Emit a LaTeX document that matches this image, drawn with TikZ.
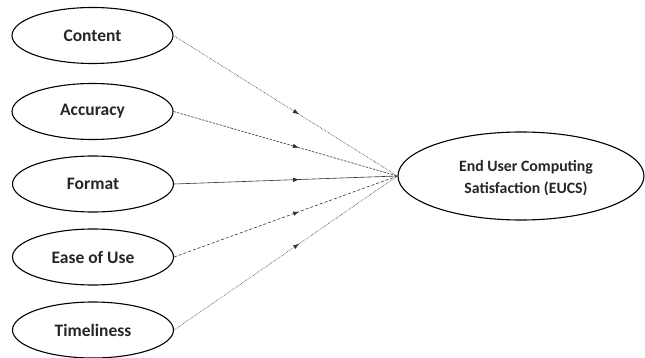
\documentclass[tikz,border=0pt]{standalone}
\usepackage{fontspec}
\setmainfont{Carlito}
\usetikzlibrary{shapes.geometric,arrows.meta,decorations.markings}
\begin{document}
\begin{tikzpicture}[x=1pt,y=-1pt,
  factor/.style={draw, ellipse, line width=1.1pt, minimum width=161pt, minimum height=56pt, inner sep=0pt,
    font=\fontsize{17.5}{20}\selectfont\bfseries, text=black!85},
  target/.style={draw, ellipse, line width=1.1pt, minimum width=246pt, minimum height=88pt, inner sep=0pt},
  targettext/.style={align=center, font=\fontsize{15.8}{22}\selectfont\bfseries, text=black!85},
  link/.style={line width=0.6pt, black!80, postaction={decorate},
    decoration={markings, mark=at position 0.56 with {\arrow{Latex[length=6pt,width=4.5pt]}}}}
]
\useasboundingbox (0,0) rectangle (645,358);
\node[factor] (content) at (92.5,35.5) {Content};
\node[factor] (accuracy) at (92.5,111.5) {Accuracy};
\node[factor] (format) at (93,184) {Format};
\node[factor] (ease) at (93,257) {Ease of Use};
\node[factor] (time) at (93,330) {Timeliness};
\node[target] (eucs) at (521,176) {};
\node[targettext] (eucstext) at (526,178) {End User Computing\\Satisfaction (EUCS)};
\draw[link, densely dotted] (content.east) -- (eucs.west);
\draw[link, dash pattern=on 2.5pt off 1.2pt] (accuracy.east) -- (eucs.west);
\draw[link] (format.east) -- (eucs.west);
\draw[link, densely dashed] (ease.east) -- (eucs.west);
\draw[link, densely dotted] (time.east) -- (eucs.west);
\end{tikzpicture}
\end{document}
